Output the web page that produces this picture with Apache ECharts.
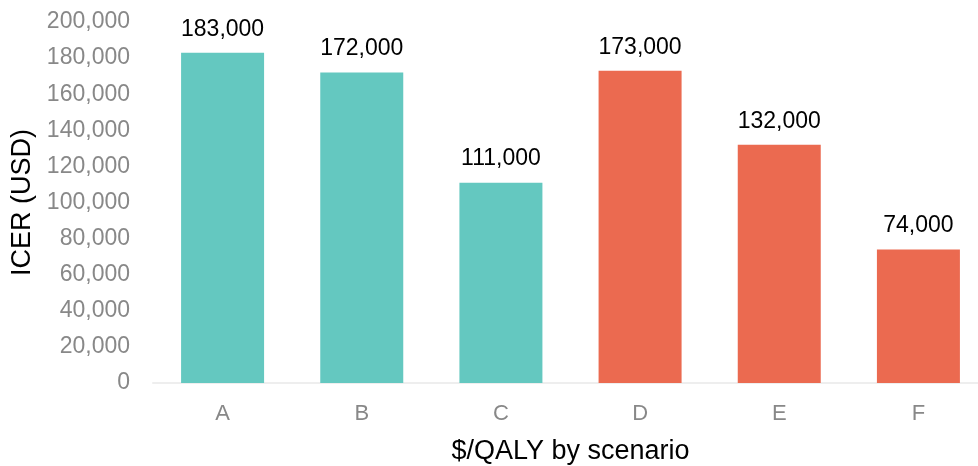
<!DOCTYPE html>
<html><head><meta charset="utf-8">
<script src="https://cdn.jsdelivr.net/npm/echarts@6/dist/echarts.min.js"></script>
<style>html,body{margin:0;padding:0;background:#fff}#c{width:978px;height:466px}</style>
</head><body><div id="c"></div>
<script>
const categories = ['A','B','C','D','E','F'];
const values = [183000,172000,111000,173000,132000,74000];
const barColors = ['#64C8C0','#64C8C0','#64C8C0','#EB6A50','#EB6A50','#EB6A50'];
const yTicks = {min:0,max:200000,interval:20000};
const fmt = v => v.toLocaleString('en-US');
const chart = echarts.init(document.getElementById('c'));
chart.setOption({
  animation:false,
  grid:{left:153,top:22,width:835,height:361,containLabel:false,outerBoundsMode:'none'},
  xAxis:{type:'category',data:categories,
    axisLine:{lineStyle:{color:'#eeeeee',width:2}},axisTick:{show:false},
    axisLabel:{color:'#888',fontSize:22,fontFamily:'Liberation Sans',margin:20},
    name:'$/QALY by scenario',nameLocation:'middle',nameGap:55,
    nameTextStyle:{color:'#000',fontSize:27,fontFamily:'Liberation Sans'}},
  yAxis:{type:'value',min:yTicks.min,max:yTicks.max,interval:yTicks.interval,
    splitLine:{show:false},axisLine:{show:false},axisTick:{show:false},
    axisLabel:{color:'#888',fontSize:23,fontFamily:'Liberation Sans',margin:23,formatter:fmt},
    name:'ICER (USD)',nameLocation:'middle',nameGap:115,
    nameTextStyle:{color:'#000',fontSize:27,fontFamily:'Liberation Sans'}},
  series:[{type:'bar',barWidth:83,
    data:values.map((v,i)=>({value:v,itemStyle:{color:barColors[i]}})),
    label:{show:true,position:'top',distance:12,color:'#000',fontSize:23,fontFamily:'Liberation Sans',formatter:p=>fmt(p.value)}
  }]
});
</script></body></html>
